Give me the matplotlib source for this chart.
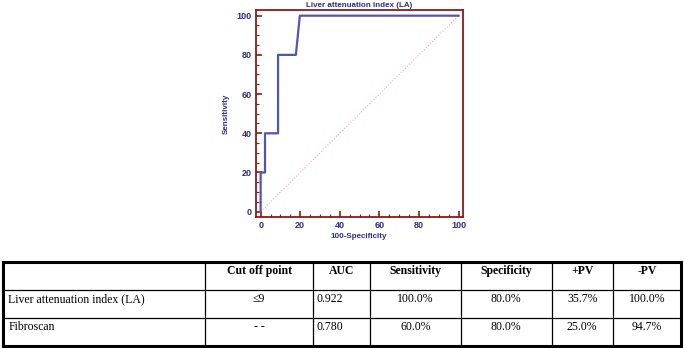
import matplotlib
matplotlib.use("Agg")
import matplotlib.pyplot as plt
from matplotlib.ticker import MultipleLocator

# ROC curve points (100-Specificity, Sensitivity)
roc_fpr = [0, 0, 2.2, 2.2, 8.8, 8.8, 17.8, 19.8, 100]
roc_tpr = [0, 20, 20, 40, 40, 80, 80, 100, 100]

# table content
col_headers = ["", "Cut off point", "AUC", "Sensitivity", "Specificity", "+PV", "-PV"]
row_names = ["Liver attenuation index (LA)", "Fibroscan"]
cut_off = ["\u22649", "- -"]
auc = ["0.922", "0.780"]
sensitivity = ["100.0%", "60.0%"]
specificity = ["80.0%", "80.0%"]
pos_pv = ["35.7%", "25.0%"]
neg_pv = ["100.0%", "94.7%"]

W, H = 685, 348
navy = "#2e2e8c"
frame_red = "#8b1a1a"
roc_blue = "#5555b0"

fig = plt.figure(figsize=(W / 100, H / 100), dpi=100)

# ---- ROC plot ----
left, right, top, bottom = 255.7, 462.7, 10, 216.7
ax = fig.add_axes([left / W, 1 - bottom / H, (right - left) / W, (bottom - top) / H])
ax.plot([0, 100], [0, 100], color="#e8b4b4", lw=0.8, ls=":")
ax.plot(roc_fpr, roc_tpr, color=roc_blue, lw=1.6)
ax.set_xlim(-2.5, 102.1)
ax.set_ylim(-2.55, 102.9)
for s in ax.spines.values():
    s.set_color(frame_red)
    s.set_linewidth(1.3)
ax.xaxis.set_major_locator(MultipleLocator(20))
ax.xaxis.set_minor_locator(MultipleLocator(5))
ax.yaxis.set_major_locator(MultipleLocator(20))
ax.yaxis.set_minor_locator(MultipleLocator(5))
ax.tick_params(which="major", length=4, width=1.2, color=frame_red, direction="in",
               labelsize=6.5, labelcolor=navy, pad=3)
ax.tick_params(which="minor", length=2, width=0.8, color=frame_red, direction="in")
ax.tick_params(top=False, right=False, which="both")
for lab in ax.get_xticklabels() + ax.get_yticklabels():
    lab.set_fontweight("bold")
    lab.set_family("Liberation Sans")
ax.set_title("Liver attenuation index (LA)", fontsize=5.8, fontweight="bold",
             color=navy, family="Liberation Sans", pad=2.5)
ax.set_xlabel("100-Specificity", fontsize=5.8, fontweight="bold", color=navy,
              family="Liberation Sans", labelpad=2)
ax.set_ylabel("Sensitivity", fontsize=5.8, fontweight="bold", color=navy,
              family="Liberation Sans", labelpad=5)

# ---- table ----
tax = fig.add_axes([0, 0, 1, 1])
tax.set_xlim(0, W)
tax.set_ylim(H, 0)
tax.axis("off")

col_x = [3.5, 205, 313.3, 370, 460.7, 551.7, 612.7, 681.5]
row_y = [261.7, 290, 318.3, 345.5]

for x in col_x[1:-1]:
    tax.plot([x, x], [row_y[0], row_y[-1]], color="black", lw=0.9)
for y in row_y[1:-1]:
    tax.plot([col_x[0], col_x[-1]], [y, y], color="black", lw=0.9)
tax.plot([col_x[0], col_x[-1], col_x[-1], col_x[0], col_x[0]],
         [row_y[0], row_y[0], row_y[-1], row_y[-1], row_y[0]],
         color="black", lw=2.2, solid_joinstyle="miter")

serif = "Liberation Serif"
for j, h in enumerate(col_headers):
    if h:
        tax.text((col_x[j] + col_x[j + 1]) / 2, row_y[0] + 9, h, ha="center", va="center",
                 fontsize=8.5, fontweight="bold", family=serif)

columns = [cut_off, auc, sensitivity, specificity, pos_pv, neg_pv]
for i, name in enumerate(row_names):
    yc = row_y[i + 1] + 9
    tax.text(col_x[0] + 5, yc, name, ha="left", va="center", fontsize=8.5, family=serif)
    for j, vals in enumerate(columns, start=1):
        if vals is auc:
            tax.text(col_x[j] + 3, yc, vals[i], ha="left", va="center",
                     fontsize=8.5, family=serif)
        else:
            tax.text((col_x[j] + col_x[j + 1]) / 2, yc, vals[i], ha="center",
                     va="center", fontsize=8.5, family=serif)

fig.savefig("out.png", dpi=100)
